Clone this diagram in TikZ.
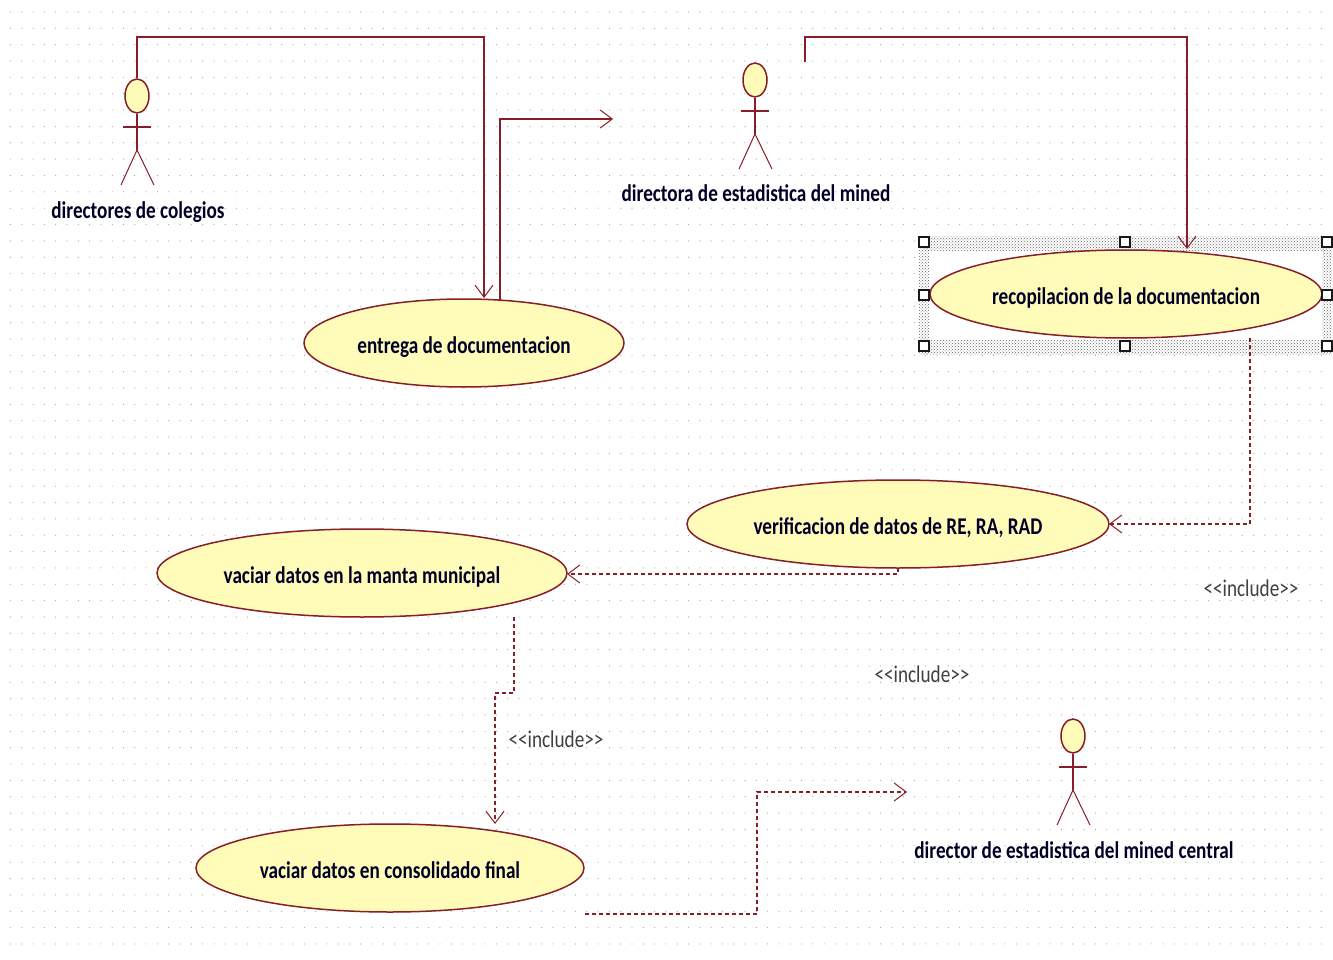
\documentclass[tikz,border=0pt]{standalone}
\usepackage{fontspec}
\setmainfont{Carlito}
\usetikzlibrary{arrows.meta,shapes.geometric,patterns}
\definecolor{umlred}{RGB}{135,30,40}
\definecolor{umlfill}{RGB}{255,251,185}
\newcommand{\narrowtext}[1]{\raisebox{-3pt}{\scalebox{0.8}[1]{#1}}}
\tikzset{
 usecase/.style={draw=umlred, fill=umlfill, line width=1.5pt, ellipse, inner sep=0pt, text height=18pt, text depth=4pt, font=\fontsize{24}{24}\selectfont\bfseries, text=black!85!blue},
 actorhead/.style={draw=umlred, fill=umlfill, line width=1.5pt, ellipse, minimum width=24pt, minimum height=34pt, inner sep=0pt},
 assoc/.style={draw=umlred, line width=1.5pt, -{Straight Barb[length=12pt,width=18pt,line width=1pt]}},
 incl/.style={assoc, dash pattern=on 4pt off 3pt},
 stereo/.style={font=\fontsize{24}{24}\selectfont, text=black!75},
 actorname/.style={text height=14pt, text depth=4pt, font=\fontsize{24}{24}\selectfont\bfseries, text=black!85!blue},
 handle/.style={draw=black!90, fill=white, line width=2pt, minimum size=10pt, inner sep=0pt},
 band/.style={pattern=crosshatch dots, pattern color=black!60, draw=none}
}
\begin{document}
\begin{tikzpicture}[x=1pt,y=-1pt]
 \useasboundingbox (0,0) rectangle (1333,960);
 \fill[white] (0,0) rectangle (1333,960);
 % grid of dots
 \foreach \i in {0,...,116}
  \foreach \j in {0,...,57}
   \fill[black!35] (10.5+11.3*\i,12+16.35*\j) circle (0.6pt);

 % selection round the use case
 \fill[white] (919,236) rectangle (1332,354);
 \fill[band] (924,236) rectangle (1327,250);
 \fill[band] (924,340) rectangle (1327,354);
 \fill[band] (919,236) rectangle (929,354);
 \fill[band] (1322,236) rectangle (1332,354);

 \node[usecase, minimum width=320pt, minimum height=88pt] (entrega) at (464,343) {\narrowtext{entrega de documentacion}};
 \node[usecase, minimum width=392pt, minimum height=88pt] (recopilacion) at (1126,294) {\narrowtext{recopilacion de la documentacion}};
 \node[usecase, minimum width=422pt, minimum height=88pt] (verificacion) at (898,524) {\narrowtext{verificacion de datos de RE, RA, RAD}};
 \node[usecase, minimum width=410pt, minimum height=88pt] (manta) at (362,573) {\narrowtext{vaciar datos en la manta municipal}};
 \node[usecase, minimum width=388pt, minimum height=88pt] (consolidado) at (390,868) {\narrowtext{vaciar datos en consolidado final}};

 % handles
 \foreach \n/\x/\y in {a/924/242,b/1125/242,c/1327/242,d/924/295,e/1327/295,f/924/346,g/1125/346,h/1327/346}
  \node[handle] (handle\n) at (\x,\y) {};

 % actors
 \foreach \n/\x/\y/\t in {colegios/137/96/directores de colegios,mined/755/80/directora de estadistica del mined,central/1073/736/director de estadistica del mined central}{
  \node[actorhead] (\n) at (\x,\y) {};
  \coordinate (\n hip) at (\x,\y+54);
  \draw[umlred, line width=1.5pt] (\n.south) -- (\n hip);
  \draw[umlred, line width=1.5pt] (\x-14,\y+31) -- (\x+14,\y+31);
  \draw[umlred, line width=1pt] (\x-16,\y+89) -- (\n hip) -- (\x+17,\y+89);
  \node[actorname] (\n name) at (\x+1,\y+114) {\narrowtext{\t}};
 }

 \coordinate (c1) at (484,37);
 \coordinate (c2) at (484,298);
 \coordinate (c3) at (500,300);
 \coordinate (c4) at (613,119);
 \coordinate (c5) at (805,62);
 \coordinate (c6) at (1187,37);
 \coordinate (c7) at (1187,249);
 \coordinate (c8) at (1250,338);
 \coordinate (c9) at (1109,524);
 \coordinate (c10) at (514,617);
 \coordinate (c11) at (514,693);
 \coordinate (c12) at (495,693);
 \coordinate (c13) at (495,824);
 \coordinate (c14) at (585,914);
 \coordinate (c15) at (907,792);
 \coordinate (c16) at (898,568);
 \coordinate (c17) at (567,574);
 \coordinate (c18) at (757,914);

 \draw[assoc] (colegios.north) |- (c1) -- (c2);
 \draw[assoc] (c3) |- (c4);
 \draw[assoc] (c5) |- (c6) -- (c7);
 \draw[incl] (c8) |- (c9);
 \draw[incl] (c16) |- (c17);
 \draw[incl] (c10) -- (c11) -- (c12) -- (c13);
 \draw[incl] (c14) -- (c18) |- (c15);

 \node[stereo] (inca) at (1251,588) {\narrowtext{<{}<include>{}>}};
 \node[stereo] (incb) at (922,674) {\narrowtext{<{}<include>{}>}};
 \node[stereo] (incc) at (556,739) {\narrowtext{<{}<include>{}>}};
\end{tikzpicture}
\end{document}
